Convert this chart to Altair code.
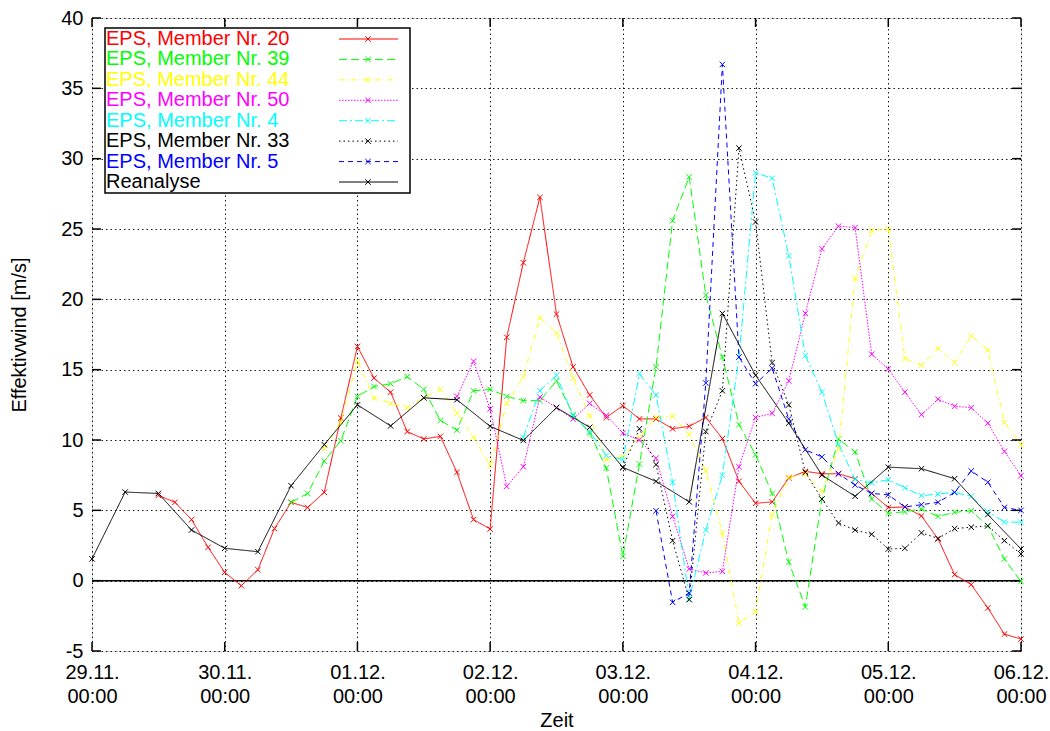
import altair as alt
import pandas as pd

# ---------------- data ----------------
day_labels = ["29.11.", "30.11.", "01.12.", "02.12.", "03.12.", "04.12.", "05.12.", "06.12."]
time_label = "00:00"
x_ticks = [0, 24, 48, 72, 96, 120, 144, 168]
y_ticks = [-5, 0, 5, 10, 15, 20, 25, 30, 35, 40]

names = ["EPS, Member Nr. 20", "EPS, Member Nr. 39", "EPS, Member Nr. 44",
         "EPS, Member Nr. 50", "EPS, Member Nr. 4", "EPS, Member Nr. 33",
         "EPS, Member Nr. 5", "Reanalyse"]
colors = ["#ff0000", "#00ff00", "#ffff00", "#ff00ff", "#00ffff", "#000000", "#0000ff", "#000000"]
dashes = [[1, 0], [8, 4], [5, 3, 1, 3], [1.5, 1.5], [8, 3, 2, 3], [1.5, 3], [5, 4], [1, 0]]
start_hour = [12, 36, 42, 66, 78, 96, 102, 0]
step_hour = [3, 3, 3, 3, 3, 3, 3, 6]

m20 = [6.06, 5.57, 4.34, 2.37, 0.59, -0.36, 0.78, 3.7, 5.57, 5.2, 6.28,
       11.56, 16.65, 14.4, 13.4, 10.6, 10.07, 10.26, 7.7, 4.34, 3.67,
       17.3, 22.6, 27.25, 18.95, 15.2, 13.2, 11.6, 12.44, 11.5, 11.5,
       10.8, 10.97, 11.6, 10.1, 7.06, 5.5, 5.6, 7.3, 7.77, 7.6,
       7.6, 7.25, 6.2, 5.2, 5.24, 4.6, 2.96, 0.43, -0.28, -1.94, -3.8, -4.15]
m39 = [5.57, 6.2, 8.5, 9.95, 13.1, 13.8, 14.0, 14.5, 13.6, 11.4,
       10.7, 13.5, 13.6, 13.1, 12.8, 12.8, 14.2, 11.8, 10.5, 8.0,
       1.73, 8.3, 15.2, 25.6, 28.7, 20.3, 15.9, 11.1, 8.95, 6.2,
       1.33, -1.87, 5.8, 10.07, 9.15, 5.8, 4.8, 4.9, 5.1, 4.57,
       4.86, 4.97, 3.9, 1.54, -0.05]
m44 = [9.4, 11.3, 15.6, 13.0, 12.6, 12.3, 13.0, 13.6, 11.9, 10.2,
       8.2, 12.6, 14.5, 18.7, 17.6, 14.4, 11.7, 8.6, 8.8, 10.2,
       11.6, 11.7, 10.4, 7.8, 3.4, -3.0, -2.2, 4.7, 7.35, 7.6,
       6.35, 9.36, 21.5, 24.9, 25.0, 15.8, 15.3, 16.5, 15.5, 17.4,
       16.4, 11.25, 9.67]
m50 = [13.1, 15.6, 12.2, 6.7, 8.1, 13.05, 12.3, 11.5, 12.6, 11.75,
       10.5, 10.0, 8.7, 4.57, 0.83, 0.55, 0.66, 8.1, 11.6, 11.9,
       14.2, 19.0, 23.6, 25.2, 25.1, 16.1, 15.05, 13.4, 11.8, 12.9,
       12.4, 12.3, 11.2, 9.2, 7.46]
m4 = [10.2, 13.5, 14.6, 11.7, 10.6, 8.9, 8.6, 14.7, 13.2, 7.0,
      -1.3, 3.6, 7.5, 15.9, 29.0, 28.6, 23.1, 16.0, 13.4, 9.7,
      7.2, 6.95, 7.18, 6.6, 6.04, 6.16, 6.28, 6.0, 4.9, 4.17, 4.15]
m33 = [8.05, 10.8, 8.25, 2.84, -1.35, 10.6, 13.5, 30.75, 25.5, 15.5,
       12.5, 7.7, 5.8, 4.1, 3.6, 3.3, 2.25, 2.3, 3.4, 3.0,
       3.7, 3.8, 3.9, 2.84, 1.9]
m5 = [4.97, -1.54, -0.88, 14.05, 36.7, 15.9, 14.0, 15.1, 11.5, 9.3,
      8.8, 7.6, 6.8, 6.2, 6.1, 5.24, 5.4, 5.57, 6.28, 7.8,
      7.0, 5.2, 5.0]
reana = [1.55, 6.3, 6.2, 3.6, 2.3, 2.06, 6.75, 9.67, 12.5, 11.0,
         13.0, 12.86, 10.97, 9.97, 12.3, 10.9, 8.05, 7.06, 5.6, 19.0,
         14.6, 11.2, 7.5, 6.0, 8.07, 7.96, 7.25, 4.7, 2.25]
values = [m20, m39, m44, m50, m4, m33, m5, reana]

FONT = "Liberation Sans"
W, H = 929, 633

xs = alt.Scale(domain=[0, 168], nice=False, zero=False)
ys = alt.Scale(domain=[-5, 40], nice=False, zero=False)

day_js = "[" + ",".join("'%s'" % d for d in day_labels) + "]"
x_axis = alt.Axis(values=x_ticks, labelExpr=f"[{day_js}[round(datum.value/24)], '{time_label}']",
                  labelFont=FONT, labelFontSize=20, labelColor="black", labelPadding=11,
                  labelLineHeight=24, labelBaseline="top", labelFlush=False, labelOverlap=False,
                  ticks=False, domain=False, grid=True, gridColor="#000000", gridDash=[1.5, 3],
                  gridWidth=1, gridOpacity=0.9, title="Zeit", titleFont=FONT, titleFontSize=20,
                  titleFontWeight="normal", titleColor="black", titlePadding=4)
y_axis = alt.Axis(values=y_ticks, labelExpr="'' + datum.value",
                  labelFont=FONT, labelFontSize=20, labelColor="black", labelPadding=9,
                  labelFlush=False, labelOverlap=False,
                  ticks=False, domain=False, grid=True, gridColor="#000000", gridDash=[1.5, 3],
                  gridWidth=1, gridOpacity=0.9, title="Effektivwind [m/s]", titleFont=FONT,
                  titleFontSize=20, titleFontWeight="normal", titleColor="black", titlePadding=31)

# frame / axes layer (zero line)
zero_df = pd.DataFrame({"v": [0]})
base = alt.Chart(zero_df).mark_rule(color="black", strokeWidth=1.5).encode(
    y=alt.Y("v:Q", scale=ys, axis=y_axis),
)
axis_holder = alt.Chart(pd.DataFrame({"t": [0, 168]})).mark_point(opacity=0).encode(
    x=alt.X("t:Q", scale=xs, axis=x_axis),
    y=alt.value(0),
)

layers = [axis_holder, base]

# inward ticks on all four borders
yt = pd.DataFrame({"v": y_ticks})
xt = pd.DataFrame({"t": x_ticks})
for xa, xb in [(0, 9), (W - 9, W)]:
    layers.append(alt.Chart(yt).mark_rule(color="black", strokeWidth=1.5).encode(
        y=alt.Y("v:Q", scale=ys, axis=None), x=alt.value(xa), x2=alt.value(xb)))
for ya, yb in [(0, 9), (H - 9, H)]:
    layers.append(alt.Chart(xt).mark_rule(color="black", strokeWidth=1.5).encode(
        x=alt.X("t:Q", scale=xs, axis=None), y=alt.value(ya), y2=alt.value(yb)))

XMARK = "M-1,-1L1,1M-1,1L1,-1"

for name, col, dash, st, sp, vals in zip(names, colors, dashes, start_hour, step_hour, values):
    df = pd.DataFrame({"t": [st + sp * i for i in range(len(vals))], "v": vals})
    enc = dict(x=alt.X("t:Q", scale=xs, axis=None), y=alt.Y("v:Q", scale=ys, axis=None))
    layers.append(alt.Chart(df).mark_line(color=col, strokeWidth=1, strokeDash=dash).encode(**enc))
    layers.append(alt.Chart(df).mark_point(shape=XMARK, filled=False, color=col, size=30,
                                           strokeWidth=1, opacity=1).encode(**enc))

# legend (gnuplot style: coloured label, sample line to the right)
leg = pd.DataFrame({"row": list(range(len(names))), "label": names, "col": colors})
ly = alt.Y("row:Q", scale=alt.Scale(domain=[0, 7], range=[21, 164]), axis=None)
layers.append(alt.Chart(pd.DataFrame({"a": [0]})).mark_rect(
    fill="white", stroke="black", strokeWidth=1.5).encode(
    x=alt.value(13), x2=alt.value(318), y=alt.value(10), y2=alt.value(175)))
layers.append(alt.Chart(leg).mark_text(align="left", baseline="middle", font=FONT, fontSize=20).encode(
    x=alt.value(14), y=ly, text="label:N", color=alt.Color("col:N", scale=None)))
for i, (col, dash) in enumerate(zip(colors, dashes)):
    sub = leg[leg["row"] == i]
    layers.append(alt.Chart(sub).mark_rule(strokeWidth=1, strokeDash=dash, color=col).encode(
        x=alt.value(247), x2=alt.value(306), y=ly))
layers.append(alt.Chart(leg).mark_point(shape=XMARK, filled=False, size=30, strokeWidth=1, opacity=1).encode(
    x=alt.value(276), y=ly, color=alt.Color("col:N", scale=None)))

chart = alt.layer(*layers).resolve_scale(x="independent", y="independent").properties(
    width=W, height=H,
    padding={"left": 92, "top": 18, "right": 29, "bottom": 80},
    autosize=alt.AutoSizeParams(type="none"),
    background="white",
).configure_view(stroke="black", strokeWidth=1.5).configure(font=FONT)

chart.save("out.html", embed_options={"renderer": "svg", "actions": False})
